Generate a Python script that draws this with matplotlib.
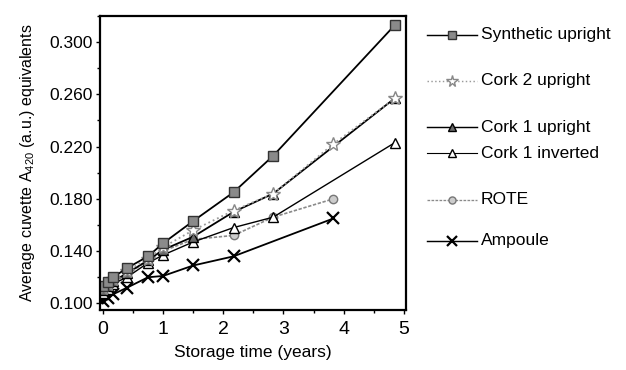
import matplotlib
matplotlib.use('Agg')
import matplotlib.pyplot as plt
from matplotlib.lines import Line2D
from matplotlib.ticker import MultipleLocator

plt.rcParams['font.family'] = ['Liberation Sans', 'DejaVu Sans']
plt.rcParams['mathtext.default'] = 'regular'

# storage times (years)
t_synth = [0, 0.08, 0.17, 0.4, 0.75, 1.0, 1.5, 2.17, 2.83, 4.85]
t_cork2 = [0, 0.08, 0.17, 0.4, 0.75, 1.0, 1.5, 2.17, 2.83, 3.83, 4.85]
t_cork1u = [0, 0.08, 0.17, 0.4, 0.75, 1.0, 1.5, 2.17, 2.83, 4.85]
t_cork1i = [0, 0.08, 0.17, 0.4, 0.75, 1.0, 1.5, 2.17, 2.83, 4.85]
t_rote = [0, 0.08, 0.17, 0.4, 0.75, 1.0, 1.5, 2.17, 2.83, 3.83]
t_amp = [0, 0.08, 0.17, 0.4, 0.75, 1.0, 1.5, 2.17, 3.83]

# average cuvette A420 equivalents
synth = [0.113, 0.116, 0.120, 0.127, 0.136, 0.146, 0.163, 0.185, 0.213, 0.313]
cork2 = [0.112, 0.115, 0.119, 0.125, 0.134, 0.143, 0.156, 0.171, 0.184, 0.222, 0.257]
cork1u = [0.110, 0.113, 0.117, 0.123, 0.133, 0.141, 0.151, 0.170, 0.184, 0.257]
cork1i = [0.108, 0.111, 0.115, 0.120, 0.131, 0.137, 0.147, 0.158, 0.166, 0.223]
rote = [0.110, 0.113, 0.116, 0.122, 0.133, 0.140, 0.149, 0.152, 0.166, 0.180]
amp = [0.102, 0.104, 0.107, 0.112, 0.120, 0.121, 0.129, 0.136, 0.165]

labels = ['Synthetic upright', 'Cork 2 upright', 'Cork 1 upright',
          'Cork 1 inverted', 'ROTE', 'Ampoule']

styles = [
    dict(color='black', ls='-', lw=1.3, marker='s', ms=7, mfc='#8a8a8a', mec='#333333'),
    dict(color='#9a9a9a', ls=':', lw=1.3, marker='*', ms=10, mfc='white', mec='#888888'),
    dict(color='black', ls='-', lw=1.3, marker='^', ms=7, mfc='#6a6a6a', mec='black'),
    dict(color='black', ls='-', lw=1.0, marker='^', ms=7, mfc='white', mec='black'),
    dict(color='#8a8a8a', ls=(0, (2, 1)), lw=1.2, marker='o', ms=6, mfc='#cccccc', mec='#777777'),
    dict(color='black', ls='-', lw=1.3, marker='x', ms=8, mew=1.6, mfc='black', mec='black'),
]

series = [(t_synth, synth), (t_cork2, cork2), (t_cork1u, cork1u),
          (t_cork1i, cork1i), (t_rote, rote), (t_amp, amp)]

fig = plt.figure(figsize=(6.26, 3.70), dpi=100)
ax = fig.add_axes([0.160, 0.162, 0.489, 0.795])

# draw back to front so squares end up on top like the scan
for i in [4, 5, 3, 2, 1, 0]:
    x, y = series[i]
    ax.plot(x, y, **styles[i])

ax.set_xlim(-0.045, 5.04)
ax.set_ylim(0.0949, 0.320)
ax.set_xticks([0, 1, 2, 3, 4, 5])
ax.xaxis.set_minor_locator(MultipleLocator(0.5))
ax.set_yticks([0.100, 0.140, 0.180, 0.220, 0.260, 0.300])
ax.set_yticklabels(['0.100', '0.140', '0.180', '0.220', '0.260', '0.300'])
ax.yaxis.set_minor_locator(MultipleLocator(0.02))
ax.tick_params(which='both', direction='out', labelsize=12.5, width=1)
ax.tick_params(which='major', length=3, pad=2)
ax.tick_params(which='minor', length=2)
ax.tick_params(axis='x', which='major', labelsize=14, pad=5)
for s in ax.spines.values():
    s.set_linewidth(1.6)

ax.set_xlabel('Storage time (years)', fontsize=12.5, labelpad=5)
ax.set_ylabel('Average cuvette A$_{420}$ (a.u.) equivalents', fontsize=11.5, labelpad=9)

# legend drawn by hand, entries are unevenly spaced in the original
leg_y = [35, 81, 127, 153, 200, 241]
W, H = 626.0, 370.0
for i, lab in enumerate(labels):
    yy = 1 - leg_y[i] / H
    st = dict(styles[i])
    mk = {k: st.pop(k) for k in ['marker', 'ms', 'mfc', 'mec'] if k in st}
    mew = st.pop('mew', 1.0)
    line = Line2D([427 / W, 477 / W], [yy, yy], transform=fig.transFigure,
                  color=st['color'], ls=st['ls'], lw=st['lw'] * 0.8)
    fig.add_artist(line)
    mark = Line2D([452 / W], [yy], transform=fig.transFigure, ls='none',
                  marker=mk['marker'], ms=mk['ms'] * 0.85, mfc=mk['mfc'],
                  mec=mk['mec'], mew=mew)
    fig.add_artist(mark)
    fig.text(481 / W, yy, lab, fontsize=12.5, va='center', ha='left')

fig.savefig('out.png', dpi=100)
